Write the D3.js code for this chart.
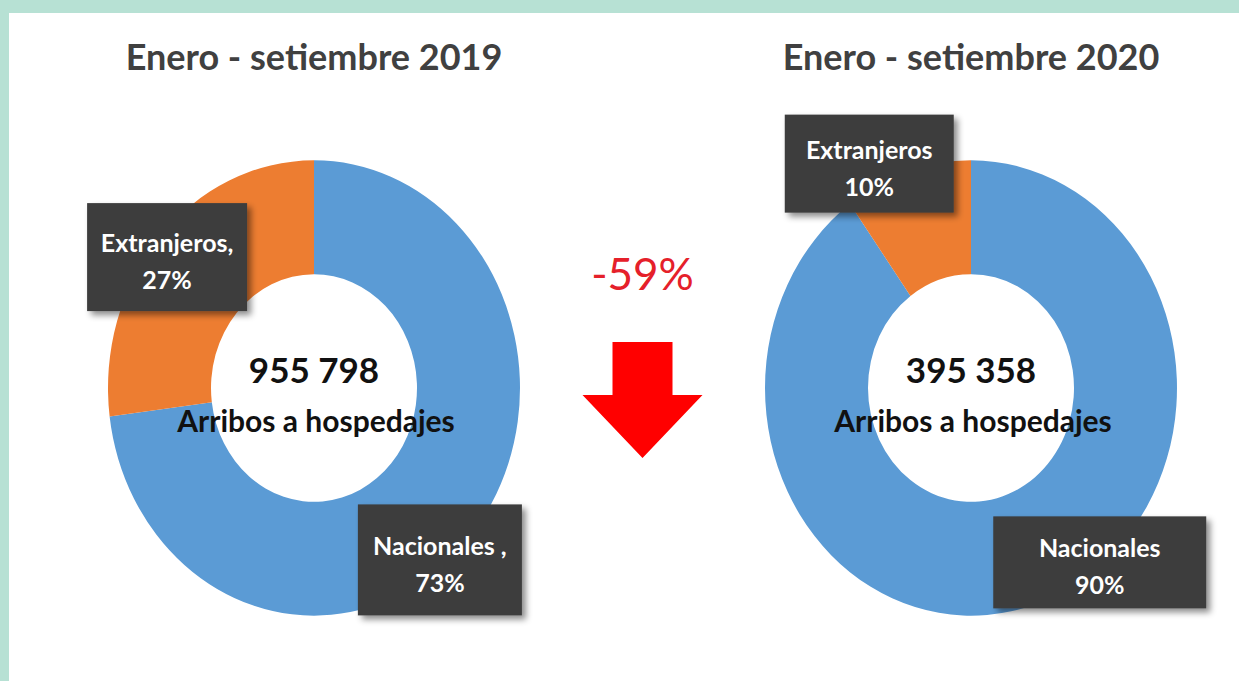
<!DOCTYPE html>
<html>
<head>
<meta charset="utf-8">
<script src="https://cdn.jsdelivr.net/npm/d3@7/dist/d3.min.js"></script>
<style>
  body { margin:0; background:#fff; }
  svg text { font-family: Lato, "Open Sans", sans-serif; }
</style>
</head>
<body>
<svg id="chart" width="1239" height="681"></svg>
<script>
// data
var categories = ["Nacionales", "Extranjeros"];
var periods = ["Enero - setiembre 2019", "Enero - setiembre 2020"];
var shares2019 = [73, 27];
var shares2020 = [90, 10];
var totals = [955798, 395358];
var centerLabel = "Arribos a hospedajes";
var change = -59;
var labelText2019 = [["Nacionales ,", "73%"], ["Extranjeros,", "27%"]];
var labelText2020 = [["Nacionales", "90%"], ["Extranjeros", "10%"]];

var colors = d3.scaleOrdinal().domain(categories).range(["#5b9bd5", "#ed7d31"]);

var svg = d3.select("#chart");
var W = 1239, H = 681;

// mint frame on left and top
svg.append("rect").attr("x",0).attr("y",0).attr("width",W).attr("height",H).attr("fill","#b7e1d4");
svg.append("rect").attr("x",9).attr("y",13).attr("width",W-9).attr("height",H-13).attr("fill","#ffffff");

var defs = svg.append("defs");
var shadow = defs.append("filter").attr("id","shadow")
	.attr("x","-20%").attr("y","-20%").attr("width","150%").attr("height","150%");
shadow.append("feDropShadow").attr("dx",4).attr("dy",4).attr("stdDeviation",3)
	.attr("flood-color","#000").attr("flood-opacity",0.45);

var outerR = 206, innerR = 103, yStretch = 1.105;
var pie = d3.pie().sort(null).value(function(d){ return d; });
var arc = d3.arc().innerRadius(innerR).outerRadius(outerR);

// one entry per donut; label offsets from slice centroid, and box sizes
var charts = [
	{ cx:314, cy:388, title:periods[0], shares:shares2019, total:totals[0], labels:labelText2019,
	  boxes:[{dx:10, dy:59, w:164, h:111}, {dx:-31, dy:-18, w:160, h:108}] },
	{ cx:971, cy:388, title:periods[1], shares:shares2020, total:totals[1], labels:labelText2020,
	  boxes:[{dx:81, dy:12, w:213, h:92}, {dx:-54, dy:-62, w:169, h:98}] }
];

var fmt = function(v){ return d3.format(",")(v).replace(/,/g, " "); };

charts.forEach(function(c)
{
	var g = svg.append("g").attr("transform","translate("+c.cx+","+c.cy+")");

	svg.append("text")
		.attr("x", c.cx).attr("y", 70)
		.attr("text-anchor","middle")
		.attr("font-size", 36).attr("font-weight", 700)
		.attr("fill","#404040")
		.text(c.title);

	var slices = pie(c.shares);
	g.append("g").attr("transform","scale(1,"+yStretch+")")
		.selectAll("path")
		.data(slices).enter()
		.append("path")
		.attr("d", arc)
		.attr("fill", function(d,i){ return colors(categories[i]); });

	g.append("text")
		.attr("x", 0).attr("y", -5)
		.attr("text-anchor","middle")
		.attr("font-size", 35).attr("font-weight", 700)
		.attr("fill","#111")
		.text(fmt(c.total));
	g.append("text")
		.attr("x", 2).attr("y", 44)
		.attr("text-anchor","middle")
		.attr("font-size", 30).attr("font-weight", 700)
		.attr("fill","#111")
		.text(centerLabel);

	var labelG = g.selectAll("g.lbl")
		.data(slices).enter()
		.append("g").attr("class","lbl")
		.attr("transform", function(d,i){
			var p = arc.centroid(d);
			var b = c.boxes[i];
			return "translate("+(p[0]+b.dx)+","+(p[1]*yStretch+b.dy)+")";
		});
	labelG.append("rect")
		.attr("x", function(d,i){ return -c.boxes[i].w/2; })
		.attr("y", function(d,i){ return -c.boxes[i].h/2; })
		.attr("width", function(d,i){ return c.boxes[i].w; })
		.attr("height", function(d,i){ return c.boxes[i].h; })
		.attr("fill","#3d3d3d")
		.attr("filter","url(#shadow)");
	labelG.each(function(d,i){
		var t = d3.select(this).append("text")
			.attr("text-anchor","middle")
			.attr("font-size", 25).attr("font-weight", 700)
			.attr("fill","#fff");
		t.append("tspan").attr("x",0).attr("y",-5).text(c.labels[i][0]);
		t.append("tspan").attr("x",0).attr("y",32).text(c.labels[i][1]);
	});
});

// change indicator between the donuts
var midX = (charts[0].cx + charts[1].cx)/2;
svg.append("text")
	.attr("x", midX).attr("y", 290)
	.attr("text-anchor","middle")
	.attr("font-size", 44)
	.attr("fill","#e5202a")
	.text(change + "%");

var arrow = d3.path();
arrow.moveTo(midX-30, 342);
arrow.lineTo(midX+30, 342);
arrow.lineTo(midX+30, 395);
arrow.lineTo(midX+60, 395);
arrow.lineTo(midX, 458);
arrow.lineTo(midX-60, 395);
arrow.lineTo(midX-30, 395);
arrow.closePath();
svg.append("path").attr("d", arrow.toString()).attr("fill","#ff0000");
</script>
</body>
</html>
